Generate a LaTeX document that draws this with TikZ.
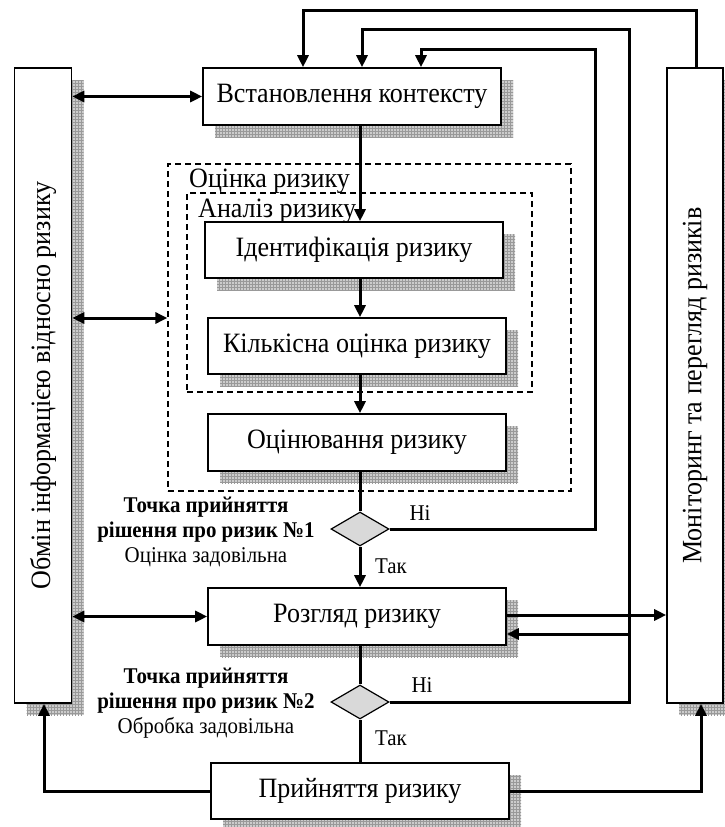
\documentclass[tikz,border=0pt]{standalone}
\usepackage{fontspec}
\setmainfont{Liberation Serif}[FakeStretch=0.93]
\usetikzlibrary{shapes.geometric,arrows.meta,patterns,shadows,calc}
\definecolor{shfill}{gray}{0.80}
\definecolor{shgrid}{gray}{0.60}
\definecolor{dfill}{gray}{0.85}
\tikzset{
  boxfont/.style={font=\fontsize{28}{32}\selectfont},
  lblfont/.style={font=\fontsize{22.5}{25}\selectfont},
  shadowed/.style={
    general shadow={shadow xshift=12pt, shadow yshift=-12pt, fill=shfill},
    general shadow={shadow xshift=12pt, shadow yshift=-12pt, pattern=grid, pattern color=shgrid}},
  procbox/.style={draw, line width=1.6pt, fill=white, minimum width=298pt,
    minimum height=57pt, inner sep=0pt, boxfont, shadowed},
  sidebox/.style={procbox, minimum width=57pt, minimum height=635pt},
  dashbox/.style={draw, line width=1.3pt, dash pattern=on 6pt off 4pt, inner sep=0pt},
  decision/.style={diamond, draw, line width=1.2pt, fill=dfill, aspect=1.7,
    minimum width=58pt, minimum height=34pt, inner sep=0pt},
  conn/.style={line width=3pt, -{Triangle[length=12pt,width=11pt]}},
  plainconn/.style={line width=3pt},
  dconn/.style={line width=3pt, {Triangle[length=12pt,width=11pt]}-{Triangle[length=12pt,width=11pt]}},
}
\begin{document}
\begin{tikzpicture}[x=1pt,y=-1pt]
\useasboundingbox (0,0) rectangle (724,827);
% dashed groups
\node[dashbox, minimum width=403pt, minimum height=327pt] (outer) at (369.5,327.5) {};
\node[dashbox, minimum width=345pt, minimum height=199pt] (inner) at (359.5,292.5) {};
\node[anchor=west, boxfont, inner sep=0pt] (outerlbl) at (189,181) {Оцінка ризику};
\node[anchor=west, boxfont, inner sep=0pt] (innerlbl) at (198,211) {Аналіз ризику};
% side boxes
\node[sidebox] (comm) at (43,385.5) {\rotatebox{90}{Обмін інформацією відносно ризику}};
\node[sidebox, minimum width=56pt] (mon) at (695,385.5) {\rotatebox{90}{Моніторинг та перегляд ризиків}};
% process boxes
\node[procbox] (ctx) at (352,96.5) {Встановлення контексту};
\node[procbox, minimum height=56pt] (ident) at (354,250) {Ідентифікація ризику};
\node[procbox, minimum height=56pt] (quant) at (357,346) {Кількісна оцінка ризику};
\node[procbox] (eval) at (357,442.5) {Оцінювання ризику};
\node[procbox] (review) at (357,616.5) {Розгляд ризику};
\node[procbox, minimum height=56pt] (accept) at (360,791) {Прийняття ризику};
% decisions
\node[decision] (d1) at (360,529) {};
\node[decision] (d2) at (360,702) {};
\node[lblfont, align=center, inner sep=0pt] (d1txt) at (206,532)
  {\textbf{Точка прийняття}\\\textbf{рішення про ризик №1}\\Оцінка задовільна};
\node[lblfont, align=center, inner sep=0pt] (d2txt) at (206,703)
  {\textbf{Точка прийняття}\\\textbf{рішення про ризик №2}\\Обробка задовільна};
\node[lblfont, inner sep=0pt] (no1) at (420,513) {Ні};
\node[lblfont, inner sep=0pt] (yes1) at (391,566) {Так};
\node[lblfont, inner sep=0pt] (no2) at (422,685) {Ні};
\node[lblfont, inner sep=0pt] (yes2) at (391,738) {Так};
% helper coordinates
\coordinate (fx) at (360,0);
\coordinate (l1) at (595,0);
\coordinate (l2) at (629,0);
\coordinate (l3) at (696,0);
\coordinate (t1) at (421,49);
\coordinate (t2) at (362,29);
\coordinate (t3) at (303,10);
\coordinate (ymid) at (0,318);
\coordinate (yra) at (0,615);
\coordinate (yrb) at (0,634);
\coordinate (cl) at (44,0);
\coordinate (cr) at (701,0);
% main flow
\draw[conn] (ctx.south -| fx) -- (ident.north -| fx);
\draw[conn] (ident.south -| fx) -- (quant.north -| fx);
\draw[conn] (quant.south -| fx) -- (eval.north -| fx);
\draw[plainconn] (eval.south -| fx) -- (d1.north);
\draw[conn] (d1.south) -- (review.north -| fx);
\draw[plainconn] (review.south -| fx) -- (d2.north);
\draw[plainconn] (d2.south) -- (accept.north -| fx);
% feedback loops
\draw[conn] (d1.east) -- (d1.east -| l1) -- (l1 |- t1) -- (t1) -- (ctx.north -| t1);
\draw[conn] (d2.east) -- (d2.east -| l2) -- (l2 |- t2) -- (t2) -- (ctx.north -| t2);
\draw[conn] (mon.north -| l3) -- (l3 |- t3) -- (t3) -- (ctx.north -| t3);
\draw[conn] (l2 |- yrb) -- (review.east |- yrb);
\draw[conn] (review.east |- yra) -- (mon.west |- yra);
% to side boxes
\draw[conn] (accept.west) -- (accept.west -| cl) -- (comm.south -| cl);
\draw[conn] (accept.east) -- (accept.east -| cr) -- (mon.south -| cr);
\draw[dconn] (comm.east |- ctx.west) -- (ctx.west);
\draw[dconn] (comm.east |- ymid) -- (outer.west |- ymid);
\draw[dconn] (comm.east |- review.west) -- (review.west);
\end{tikzpicture}
\end{document}
